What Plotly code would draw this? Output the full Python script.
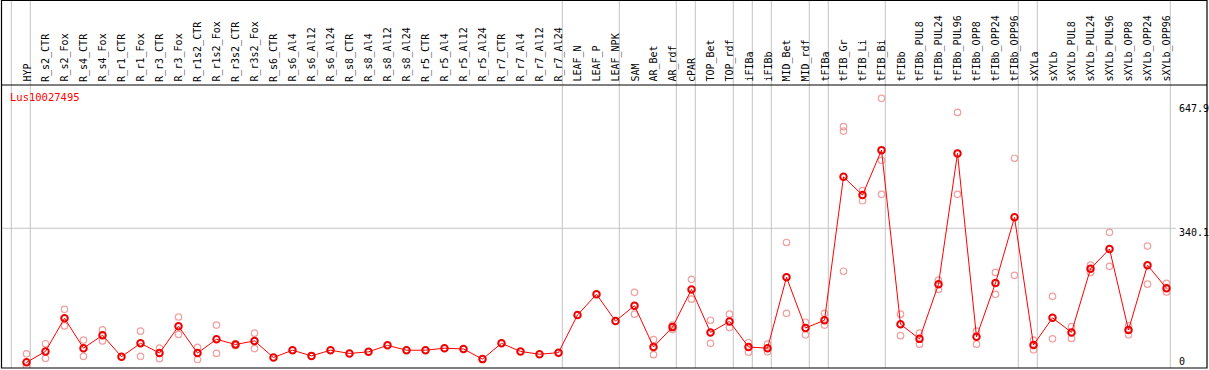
import plotly.graph_objects as go

# ---------------- data ----------------
categories = ["HYP", "R_s2_CTR", "R_s2_Fox", "R_s4_CTR", "R_s4_Fox", "R_r1_CTR", "R_r1_Fox",
              "R_r3_CTR", "R_r3_Fox", "R_r1s2_CTR", "R_r1s2_Fox", "R_r3s2_CTR", "R_r3s2_Fox",
              "R_s6_CTR", "R_s6_Al4", "R_s6_Al12", "R_s6_Al24", "R_s8_CTR", "R_s8_Al4", "R_s8_Al12",
              "R_s8_Al24", "R_r5_CTR", "R_r5_Al4", "R_r5_Al12", "R_r5_Al24", "R_r7_CTR", "R_r7_Al4",
              "R_r7_Al12", "R_r7_Al24", "LEAF_N", "LEAF_P", "LEAF_NPK", "SAM", "AR_Bet", "AR_rdf",
              "cPAR", "TOP_Bet", "TOP_rdf", "iFIBa", "iFIBb", "MID_Bet", "MID_rdf", "tFIBa",
              "tFIB_Gr", "tFIB_Li", "tFIB_Bi", "tFIBb", "tFIBb_PUL8", "tFIBb_PUL24", "tFIBb_PUL96",
              "tFIBb_OPP8", "tFIBb_OPP24", "tFIBb_OPP96", "sXYLa", "sXYLb", "sXYLb_PUL8",
              "sXYLb_PUL24", "sXYLb_PUL96", "sXYLb_OPP8", "sXYLb_OPP24", "sXYLb_OPP96"]

mean_values = [9, 36, 118, 44, 76, 23, 56, 32, 98, 32, 66, 53, 62,
               21, 39, 25, 39, 31, 35, 51, 39, 39, 44, 42, 17, 56, 36, 29, 33,
               126, 177, 111, 149, 47, 96, 189, 83, 110, 47, 44, 219, 94, 113,
               467, 422, 533, 103, 67, 202, 525, 72, 205, 367,
               52, 119, 83, 240, 289, 89, 249, 192]

rep_a = [30, 55, 140, 64, 89, None, 86, 44, 121, 46, 101, 55, 81,
         None, None, None, None, None, None, None, None, None, None, None, None, None, None, None, None,
         None, None, None, 182, 65, 101, 214, 113, 128, 58, 54, 305, 108, 130,
         591, 433, 661, 128, 81, 212, 626, 86, 231, 513,
         64, 172, 97, 249, 330, 99, 296, 204]

rep_b = [0, 19, 99, 24, 62, None, 24, 18, 78, 16, 31, 50, 43,
         None, None, None, None, None, None, None, None, None, None, None, None, None, None, None, None,
         None, None, None, 128, 28, 90, 165, 56, 95, 34, 35, 130, 77, 101,
         234, 408, 424, 75, 54, 189, 424, 54, 177, 224,
         40, 67, 68, 231, 246, 77, 202, 183]

rep_c = [None] * 43 + [580, None, 508] + [None] * 15

# sizes of the column groups separated by vertical grey rules
group_sizes = [1, 28, 3, 3, 1, 2, 1, 1, 2, 1, 3, 7, 1, 7]

title_text = "Lus10027495"
y_tick_values = [0, 340.1, 647.9]
y_tick_labels = ["0", "340.1", "647.9"]
grid_values = [340.1]

# ---------------- layout geometry ----------------
W, H = 1209, 370
col_step = 19.0
first_col_px = 26.5
x_lo = -first_col_px / col_step
x_hi = x_lo + W / col_step

zero_px = 366.0
px_per_unit = 0.405
plot_top_px = 85.0
plot_bot_px = 368.0
y_lo = (zero_px - plot_bot_px) / px_per_unit
y_hi = (zero_px - plot_top_px) / px_per_unit

FONT = "DejaVu Sans Mono"
idx = list(range(len(categories)))

fig = go.Figure()

rep_color = "#f0a0a0"
for reps in (rep_a, rep_b, rep_c):
    fig.add_trace(go.Scatter(
        x=idx, y=reps, mode="markers",
        marker=dict(symbol="circle-open", size=6.5, color=rep_color,
                    line=dict(width=1.2, color=rep_color)),
        hoverinfo="skip", showlegend=False))

fig.add_trace(go.Scatter(
    x=idx, y=mean_values, mode="lines+markers",
    line=dict(color="#ff0000", width=1),
    marker=dict(symbol="circle-open", size=6.5, color="#ee0000",
                line=dict(width=2, color="#ee0000")),
    text=categories, hovertemplate="%{text}: %{y}<extra></extra>",
    showlegend=False))

shapes = []
# vertical group separators
bounds = [-0.8]
c = 0
for s in group_sizes:
    c += s
    bounds.append(c - 0.8)
for b in bounds:
    shapes.append(dict(type="line", xref="x", yref="paper", x0=b, x1=b,
                       y0=(H - plot_bot_px) / H, y1=1, layer="below",
                       line=dict(color="#c4c4c4", width=1)))
# horizontal grid
for g in grid_values:
    shapes.append(dict(type="line", xref="paper", yref="y", x0=1 / W, x1=1176 / W,
                       y0=g, y1=g, layer="below", line=dict(color="#c4c4c4", width=1)))
# frame and header separator
shapes.append(dict(type="rect", xref="paper", yref="paper", x0=1.5 / W, x1=1207 / W,
                   y0=(H - plot_bot_px) / H, y1=1 - 0.5 / H,
                   line=dict(color="black", width=1.2), layer="above"))
shapes.append(dict(type="line", xref="paper", yref="paper", x0=1.5 / W, x1=1207 / W,
                   y0=(H - plot_top_px) / H, y1=(H - plot_top_px) / H,
                   line=dict(color="black", width=1.2), layer="above"))

annotations = []
for i, name in enumerate(categories):
    annotations.append(dict(x=i, xref="x", y=(H - 84) / H, yref="paper",
                            text=name, showarrow=False, textangle=-90,
                            xanchor="center", yanchor="bottom",
                            font=dict(family=FONT, size=10, color="black")))
annotations.append(dict(x=8 / W, xref="paper", y=(H - 97) / H, yref="paper",
                        text=title_text, showarrow=False, xanchor="left", yanchor="middle",
                        font=dict(family=FONT, size=10.5, color="#ff0000")))
for v, lab in zip(y_tick_values, y_tick_labels):
    annotations.append(dict(x=1177 / W, xref="paper", y=v, yref="y", text=lab,
                            showarrow=False, xanchor="left",
                            yanchor="bottom" if v == 0 else "top",
                            yshift=-3 if v == 0 else 3,
                            font=dict(family=FONT, size=10, color="black")))

fig.update_layout(
    width=W, height=H,
    margin=dict(l=0, r=0, t=0, b=0),
    paper_bgcolor="white", plot_bgcolor="white",
    xaxis=dict(range=[x_lo, x_hi], visible=False, fixedrange=True),
    yaxis=dict(range=[y_lo, y_hi], domain=[(H - plot_bot_px) / H, (H - plot_top_px) / H],
               visible=False, fixedrange=True),
    shapes=shapes, annotations=annotations,
    showlegend=False,
)

fig.write_html(
    "out.html",
    config={"displayModeBar": False},
    post_script="document.body.style.margin='0';document.body.style.overflow='hidden';",
)
